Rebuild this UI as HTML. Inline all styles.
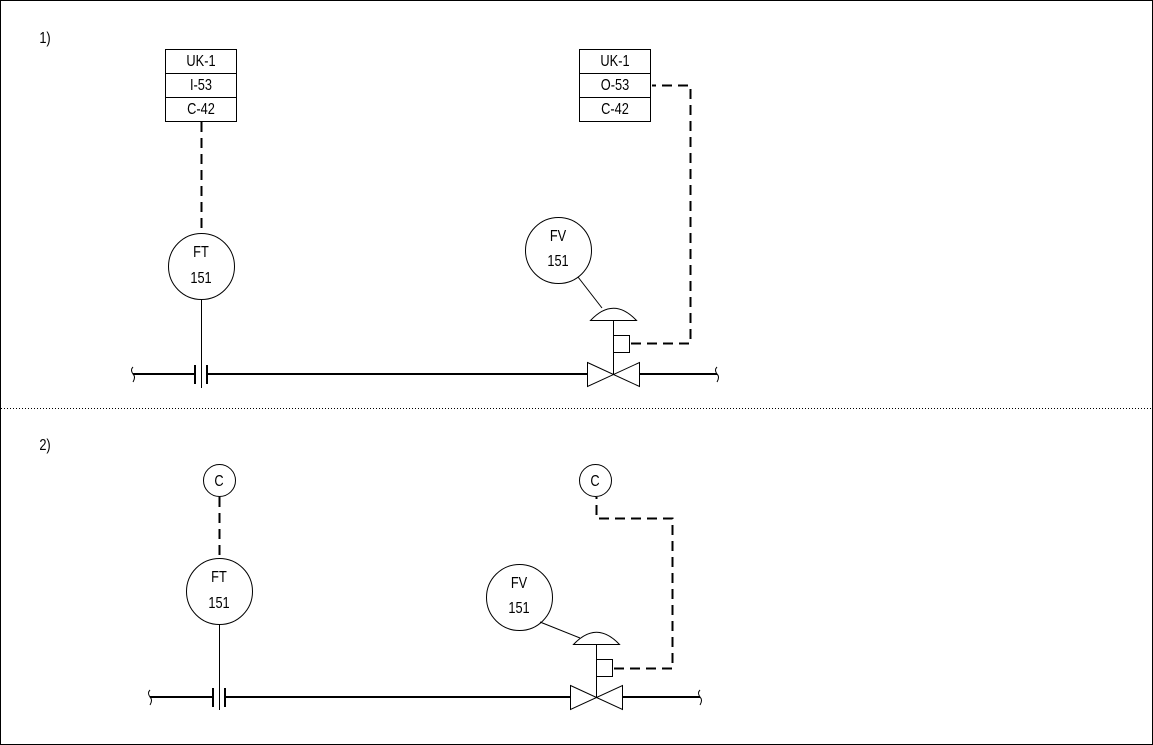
<!DOCTYPE html>
<html><head><meta charset="utf-8"><style>
html,body{margin:0;padding:0;background:#fff;}
svg{display:block;}
text{font-family:"Liberation Sans",sans-serif;font-size:16px;fill:#000;text-anchor:middle;}
</style></head><body>
<svg width="1153" height="745" viewBox="0 0 1153 745" xmlns="http://www.w3.org/2000/svg">
<rect x="0.5" y="0.5" width="1152" height="744" fill="#fff" stroke="#000"/>
<line x1="1" y1="408.5" x2="1152" y2="408.5" stroke="#000" stroke-dasharray="1,2"/>
<text transform="translate(45,43) scale(0.8,1)" font-size="15">1)</text>
<text transform="translate(45,450) scale(0.8,1)" font-size="15">2)</text>

<!-- Section 1 -->
<g fill="none" stroke="#000">
<rect x="165.5" y="49.5" width="71" height="72"/>
<line x1="165" y1="73.5" x2="236" y2="73.5"/>
<line x1="165" y1="97.5" x2="236" y2="97.5"/>
<rect x="579.5" y="49.5" width="71" height="72"/>
<line x1="579" y1="73.5" x2="650" y2="73.5"/>
<line x1="579" y1="97.5" x2="650" y2="97.5"/>
<line x1="201.5" y1="122" x2="201.5" y2="233" stroke-width="2" stroke-dasharray="10,6"/>
<circle cx="201.5" cy="266.5" r="33"/>
<line x1="201.5" y1="300" x2="201.5" y2="388"/>
<line x1="133" y1="374" x2="195" y2="374" stroke-width="2"/>
<line x1="195" y1="365" x2="195" y2="384" stroke-width="2"/>
<line x1="207" y1="365" x2="207" y2="384" stroke-width="2"/>
<line x1="207" y1="374" x2="587" y2="374" stroke-width="2"/>
<path d="M133 367 q-3 3 0 7 q3 3 0 8"/>
<path d="M587.5 362.5 L639.5 386.5 L639.5 362.5 L587.5 386.5 Z"/>
<line x1="639" y1="374" x2="717" y2="374" stroke-width="2"/>
<path d="M717 367 q-3 3 0 7 q3 3 0 8"/>
<line x1="613.5" y1="320" x2="613.5" y2="374"/>
<path d="M590.5 320.5 Q613.5 296 636.5 320.5 Z"/>
<rect x="613.5" y="335.5" width="16" height="17"/>
<path d="M631 343.5 H690.5 V85.5 H652" stroke-width="2" stroke-dasharray="10,6"/>
<circle cx="558.5" cy="250.5" r="33"/>
<line x1="578" y1="277" x2="602" y2="308"/>
</g>
<text transform="translate(201,66) scale(0.8,1)">UK-1</text>
<text transform="translate(201,90) scale(0.8,1)">I-53</text>
<text transform="translate(201,114) scale(0.8,1)">C-42</text>
<text transform="translate(615,66) scale(0.8,1)">UK-1</text>
<text transform="translate(615,90) scale(0.8,1)">O-53</text>
<text transform="translate(615,114) scale(0.8,1)">C-42</text>
<text transform="translate(201,257) scale(0.8,1)">FT</text>
<text transform="translate(201,283) scale(0.8,1)">151</text>
<text transform="translate(558,241) scale(0.8,1)">FV</text>
<text transform="translate(558,266) scale(0.8,1)">151</text>

<!-- Section 2 -->
<g fill="none" stroke="#000">
<circle cx="219.5" cy="480.5" r="16"/>
<line x1="219.5" y1="497" x2="219.5" y2="558" stroke-width="2" stroke-dasharray="10,6"/>
<circle cx="219.5" cy="591.5" r="33"/>
<line x1="219.5" y1="625" x2="219.5" y2="710"/>
<line x1="150" y1="697" x2="213" y2="697" stroke-width="2"/>
<line x1="213" y1="688" x2="213" y2="707" stroke-width="2"/>
<line x1="225" y1="688" x2="225" y2="707" stroke-width="2"/>
<line x1="225" y1="697" x2="570" y2="697" stroke-width="2"/>
<path d="M150 690 q-3 3 0 7 q3 3 0 8"/>
<path d="M570.5 685.5 L622.5 709.5 L622.5 685.5 L570.5 709.5 Z"/>
<line x1="622" y1="697" x2="700" y2="697" stroke-width="2"/>
<path d="M700 690 q-3 3 0 7 q3 3 0 8"/>
<line x1="596.5" y1="644" x2="596.5" y2="697"/>
<path d="M573.5 644.5 Q596.5 620 619.5 644.5 Z"/>
<rect x="596.5" y="659.5" width="16" height="17"/>
<path d="M614 668.5 H672.5 V518.5 H596.5 V497" stroke-width="2" stroke-dasharray="10,6"/>
<circle cx="595.5" cy="480.5" r="16"/>
<circle cx="519.5" cy="597.5" r="33"/>
<line x1="540" y1="622" x2="580" y2="638"/>
</g>
<text transform="translate(219,486) scale(0.8,1)" font-size="15">C</text>
<text transform="translate(595,486) scale(0.8,1)" font-size="15">C</text>
<text transform="translate(219,582) scale(0.8,1)">FT</text>
<text transform="translate(219,608) scale(0.8,1)">151</text>
<text transform="translate(519,588) scale(0.8,1)">FV</text>
<text transform="translate(519,613) scale(0.8,1)">151</text>
</svg>
</body></html>
